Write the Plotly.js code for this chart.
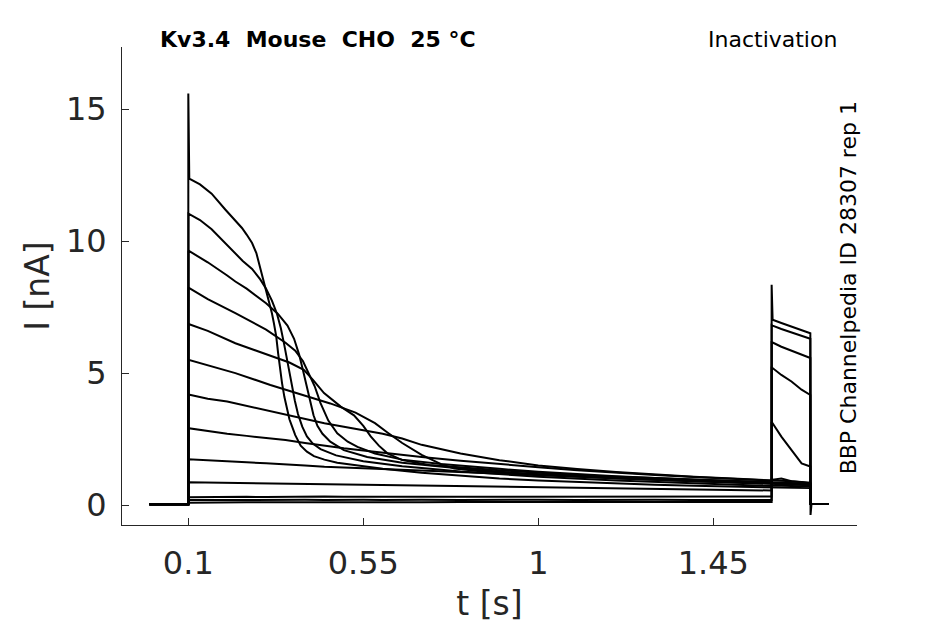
<!DOCTYPE html>
<html>
<head>
<meta charset="utf-8">
<script src="https://cdn.plot.ly/plotly-3.0.1.min.js"></script>
<style>html,body{margin:0;padding:0;background:#fff;}#chart{width:945px;height:624px;}</style>
</head>
<body>
<div id="chart"></div>
<script>
// ---- data (time in s, current in nA) ----
const holdT = [0, 0.1];
const holdI = [0.03, 0.03];
const tailT = [1.7, 1.746];
const tailI = [0.04, 0.04];
const tail13T = [1.7, 1.7025, 1.746];
const tail13I = [-0.38, 0.04, 0.04];
const testT = [1.6, 1.6025, 1.625, 1.651, 1.677, 1.6995];

const t1 = [0.1,0.1025,0.13,0.16,0.195,0.22,0.238,0.25,0.264,0.275,0.283,0.29,0.298,0.306,0.315,0.32,0.326,0.331,0.336,0.341,0.347,0.354,0.36,0.367,0.375,0.389,0.405,0.423,0.45,0.483,0.53,0.6,0.7,0.8,0.9,1.0,1.1,1.2,1.3,1.4,1.5,1.6];
const i1 = [15.6,12.37,12.15,11.8,11.2,10.8,10.5,10.25,9.93,9.55,9.1,8.7,8.28,7.8,7.27,6.9,6.4,5.75,5.15,4.62,4.1,3.6,3.25,2.97,2.65,2.25,2.02,1.85,1.72,1.6,1.5,1.37,1.22,1.1,1.0,0.93,0.87,0.82,0.77,0.73,0.7,0.66];
const t2 = [0.1005,0.13,0.16,0.2,0.221,0.24,0.264,0.285,0.3,0.315,0.328,0.338,0.347,0.355,0.362,0.367,0.374,0.382,0.393,0.405,0.42,0.44,0.48,0.55,0.65,0.8,1.0,1.2,1.4,1.6];
const i2 = [11.04,10.8,10.45,9.85,9.55,9.25,8.95,8.55,8.2,7.75,7.25,6.7,6.05,5.4,4.85,4.5,3.95,3.45,2.97,2.6,2.33,2.12,1.88,1.66,1.47,1.27,1.07,0.93,0.82,0.72];
const t3 = [0.1005,0.15,0.2,0.221,0.25,0.3,0.33,0.355,0.372,0.385,0.395,0.405,0.413,0.422,0.432,0.445,0.465,0.5,0.56,0.65,0.8,1.0,1.2,1.4,1.6];
const i3 = [9.64,9.2,8.7,8.47,8.2,7.65,7.25,6.8,6.3,5.7,5.1,4.5,3.95,3.4,3.0,2.7,2.4,2.08,1.82,1.6,1.38,1.15,1.0,0.89,0.79];
const t4 = [0.1005,0.15,0.221,0.3,0.35,0.375,0.395,0.41,0.425,0.44,0.46,0.483,0.51,0.535,0.58,0.65,0.75,0.9,1.0,1.2,1.4,1.6];
const i4 = [8.24,7.8,7.27,6.65,6.15,5.85,5.45,5.0,4.5,3.86,3.2,2.72,2.4,2.2,1.95,1.72,1.55,1.37,1.26,1.09,0.96,0.86];
const t5 = [0.1005,0.15,0.221,0.3,0.36,0.397,0.42,0.449,0.492,0.526,0.55,0.569,0.59,0.612,0.65,0.72,0.8,0.9,1.0,1.15,1.3,1.45,1.6];
const i5 = [6.86,6.6,6.13,5.72,5.4,5.12,4.75,4.24,3.73,3.4,3.0,2.6,2.25,1.96,1.7,1.52,1.42,1.32,1.22,1.1,1.02,0.95,0.88];
const t6 = [0.1005,0.15,0.221,0.311,0.4,0.465,0.53,0.58,0.612,0.65,0.7,0.75,0.784,0.85,0.95,1.1,1.25,1.4,1.6];
const i6 = [5.5,5.3,5.0,4.55,4.15,3.85,3.5,3.1,2.75,2.35,1.9,1.55,1.38,1.28,1.2,1.1,1.01,0.93,0.84];
const tSlow = [0.1005,0.15,0.2,0.25,0.3,0.35,0.4,0.45,0.5,0.55,0.6,0.65,0.7,0.8,0.9,1.0,1.1,1.2,1.3,1.4,1.5,1.6];
const i7 = [4.19,4.03,3.92,3.76,3.6,3.44,3.27,3.1,2.97,2.84,2.7,2.52,2.28,1.95,1.7,1.5,1.36,1.25,1.15,1.07,1.0,0.95];
const i8 = [2.91,2.8,2.7,2.62,2.55,2.46,2.35,2.24,2.15,2.07,1.98,1.9,1.82,1.68,1.55,1.43,1.32,1.22,1.14,1.06,0.98,0.92];
const i9 = [1.73,1.7,1.66,1.62,1.58,1.55,1.5,1.45,1.42,1.39,1.36,1.33,1.3,1.24,1.18,1.12,1.06,1.0,0.95,0.9,0.86,0.82];
const i10 = [0.86,0.85,0.84,0.82,0.81,0.8,0.79,0.78,0.77,0.76,0.75,0.74,0.73,0.71,0.69,0.67,0.64,0.62,0.6,0.58,0.56,0.55];
const i11 = [0.29,0.3,0.29,0.31,0.3,0.31,0.3,0.32,0.31,0.31,0.32,0.31,0.32,0.32,0.31,0.32,0.33,0.32,0.32,0.33,0.32,0.32];
const i12 = [0.19,0.2,0.19,0.19,0.2,0.19,0.2,0.19,0.2,0.2,0.19,0.2,0.2,0.19,0.2,0.2,0.19,0.2,0.2,0.19,0.2,0.19];
const i13 = [0.09,0.1,0.09,0.1,0.1,0.09,0.1,0.1,0.11,0.1,0.1,0.11,0.1,0.11,0.1,0.11,0.11,0.1,0.11,0.11,0.12,0.11];

const test1 = [0.68,0.68,0.67,0.66,0.65,0.64];
const test2 = [0.74,0.74,0.73,0.72,0.71,0.7];
const test3 = [0.8,0.79,0.78,0.77,0.76,0.75];
const test4 = [0.85,0.84,0.83,0.81,0.8,0.78];
const test5 = [0.88,0.87,0.86,0.84,0.83,0.81];
const test6 = [0.84,0.84,0.83,0.82,0.8,0.79];
const test7 = [0.95,0.94,0.92,0.9,0.87,0.85];
const test8 = [1.01,0.96,1.0,0.9,0.86,0.82];
const test9 = [3.15,3.1,2.59,2.08,1.58,1.46];
const test10 = [5.2,5.19,4.93,4.68,4.37,4.17];
const test11 = [6.17,6.16,6.0,5.84,5.7,5.57];
const test12 = [6.82,6.8,6.67,6.55,6.42,6.3];
const test13 = [8.35,7.02,6.9,6.77,6.64,6.51];

const xTickVals = [0.1, 0.55, 1, 1.45];
const xTickText = ['0.1', '0.55', '1', '1.45'];
const yTickVals = [0, 5, 10, 15];
const yTickText = ['0', '5', '10', '15'];

// ---- build sweeps ----
const sweeps = [
  [t1, i1, test1], [t2, i2, test2], [t3, i3, test3], [t4, i4, test4],
  [t5, i5, test5], [t6, i6, test6], [tSlow, i7, test7], [tSlow, i8, test8],
  [tSlow, i9, test9], [tSlow, i10, test10], [tSlow, i11, test11],
  [tSlow, i12, test12], [tSlow, i13, test13]
];
const traces = sweeps.map((s, k) => {
  const last = k === sweeps.length - 1;
  const tt = last ? tail13T : tailT;
  const ti = last ? tail13I : tailI;
  return {
    x: holdT.concat(s[0], testT, tt),
    y: holdI.concat(s[1], s[2], ti),
    type: 'scatter', mode: 'lines',
    line: {color: '#000000', width: 2},
    hoverinfo: 'skip', showlegend: false
  };
});

const FONT = 'DejaVu Sans, Verdana, sans-serif';
const layout = {
  width: 945, height: 624,
  margin: {l: 122, r: 88, t: 47, b: 99, pad: 0},
  paper_bgcolor: '#ffffff', plot_bgcolor: '#ffffff',
  font: {family: FONT, color: '#262626'},
  showlegend: false,
  xaxis: {
    range: [-0.0705, 1.8195], tickvals: xTickVals, ticktext: xTickText,
    ticks: 'inside', ticklen: 7, tickwidth: 1, tickcolor: '#262626',
    showline: true, linecolor: '#262626', linewidth: 1,
    showgrid: false, zeroline: false,
    tickfont: {family: FONT, size: 32, color: '#262626'},
    ticklabelstandoff: 10,
    title: {text: 't [s]', font: {family: FONT, size: 33, color: '#262626'}, standoff: 10}
  },
  yaxis: {
    range: [-0.758, 17.36], tickvals: yTickVals, ticktext: yTickText,
    ticks: 'inside', ticklen: 7, tickwidth: 1, tickcolor: '#262626',
    showline: true, linecolor: '#262626', linewidth: 1,
    showgrid: false, zeroline: false,
    tickfont: {family: FONT, size: 32, color: '#262626'},
    ticklabelstandoff: 8,
    title: {text: 'I [nA]', font: {family: FONT, size: 33, color: '#262626'}, standoff: 6}
  },
  annotations: [
    {text: '<b>Kv3.4\u00a0\u00a0Mouse\u00a0\u00a0CHO\u00a0\u00a025 °C</b>', xref: 'paper', yref: 'paper',
     x: 0.266, y: 1.0167, xanchor: 'center', yanchor: 'middle', showarrow: false,
     font: {family: FONT, size: 22, color: '#000000'}},
    {text: 'Inactivation', xref: 'paper', yref: 'paper',
     x: 0.8857, y: 1.0167, xanchor: 'center', yanchor: 'middle', showarrow: false,
     font: {family: FONT, size: 22, color: '#000000'}},
    {text: 'BBP Channelpedia ID 28307 rep 1', xref: 'paper', yref: 'paper',
     x: 0.989, y: 0.497, xanchor: 'center', yanchor: 'middle', showarrow: false, textangle: -90,
     font: {family: FONT, size: 22, color: '#000000'}}
  ]
};

Plotly.newPlot('chart', traces, layout, {displayModeBar: false, staticPlot: true});
</script>
</body>
</html>
